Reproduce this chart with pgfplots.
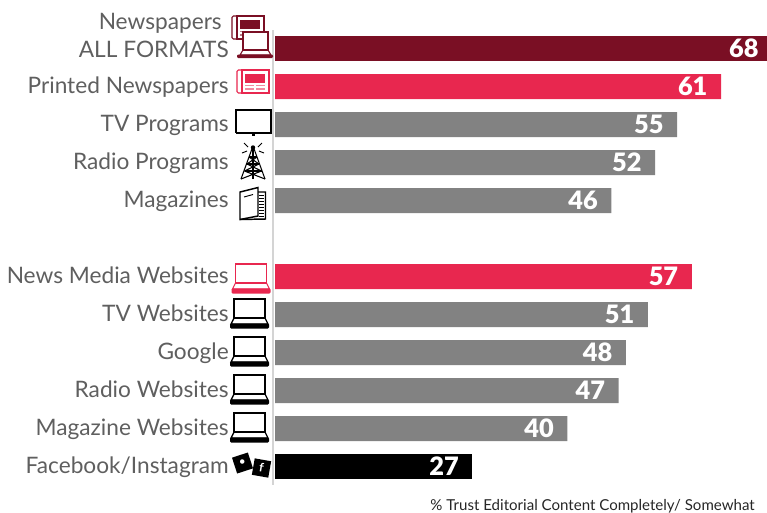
\documentclass[border=0pt]{standalone}
\usepackage{fontspec}
\setmainfont{Lato}
\newfontfamily\numfont{Lato Black}
\usepackage{pgfplots}
\pgfplotsset{compat=1.18}
\definecolor{darkred}{HTML}{7A0F24}
\definecolor{hotred}{HTML}{E8274F}
\definecolor{bargray}{HTML}{828282}
\definecolor{labelgray}{HTML}{5F5F5F}
\definecolor{axisgray}{HTML}{D4D4D4}

% icons, in picture pixels (origin top left, y down)
\newcommand{\laptop}[4]{% colour, left of screen, top of screen, line width
  \draw[#1,line width=#4] (#2,#3) rectangle ++(31,19);
  \draw[#1,line width=#4] (#2,#3+19) -- ++(-3,6) -- ++(37,0) -- ++(-3,-6);
  \fill[#1,rounded corners=0.8pt] (#2-4,#3+24.5) rectangle ++(39,5);
}
\newcommand{\paper}[3]{% colour, left, top
  \draw[#1,line width=0.8pt,rounded corners=1pt,fill=white] (#2,#3) rectangle ++(32,23);
  \draw[#1,line width=0.8pt,fill=white] (#2+5,#3) rectangle ++(27,23);
  \fill[#1] (#2+8,#3+3.5) rectangle ++(20,9);
  \fill[#1!55] (#2+8,#3+14.5) rectangle ++(9,1.7);
  \fill[#1!55] (#2+19,#3+14.5) rectangle ++(9,1.7);
  \fill[#1!55] (#2+8,#3+18) rectangle ++(9,1.7);
  \fill[#1!55] (#2+19,#3+18) rectangle ++(9,1.7);
}

\begin{document}
\begin{tikzpicture}[x=0.75pt,y=-0.75pt]
\path[use as bounding box] (0,0) rectangle (767,512);
\coordinate (axpos) at (273,485);
\begin{axis}[
  at={(axpos)}, anchor=south west,
  scale only axis, width=374.4pt, height=341.25pt,
  xmin=-0.274, xmax=68,
  ymin=-0.487, ymax=11.487, y dir=reverse,
  axis x line=none, axis y line=left,
  axis line style={-, axisgray, line width=1.5pt},
  ytick={0,1,2,3,4,6,7,8,9,10,11},
  yticklabels={\raisebox{-2pt}{ALL FORMATS},Printed Newspapers,TV Programs,Radio Programs,Magazines,News Media Websites,TV Websites,Google,Radio Websites,Magazine Websites,Facebook/Instagram},
  major tick length=0pt,
  y tick label style={anchor=east, inner sep=0pt, xshift=-33pt, yshift=-1pt, text=labelgray,
    font=\fontsize{17pt}{18pt}\selectfont, text height=12pt, text depth=4pt},
  xbar, bar shift=0pt, bar width=18.75pt,
  nodes near coords, point meta=explicit symbolic,
  every node near coord/.style={anchor=east, xshift=-10pt, white,
    font=\fontsize{19pt}{20pt}\numfont\selectfont, inner sep=0pt},
  clip mode=individual,
]
\addplot[fill=darkred, draw=none] coordinates {(68,0) [68]};
\addplot[fill=hotred, draw=none] coordinates {(61,1) [61] (57,6) [57]};
\addplot[fill=bargray, draw=none] coordinates {(55,2) [55] (52,3) [52] (46,4) [46] (51,7) [51] (48,8) [48] (47,9) [47] (40,10) [40]};
\addplot[fill=black, draw=none] coordinates {(27,11) [27]};
\end{axis}
\node[anchor=east, inner sep=0pt, text=labelgray, font=\fontsize{17pt}{18pt}\selectfont, text height=12pt, text depth=4pt] at (222,24) {Newspapers};

% top icon: newspaper with laptop
\paper{darkred}{232}{16}
\begin{scope}[shift={(243,32)}]
  \draw[darkred,line width=0.8pt,fill=white] (0,0) rectangle (25,18);
  \draw[darkred,line width=0.8pt] (0,18) -- (-3,23) -- (28,23) -- (25,18);
  \fill[darkred,rounded corners=0.8pt] (-6,22.5) rectangle (30,26);
\end{scope}
\paper{hotred}{237}{70}
% tv
\draw[black,line width=1.1pt] (236,110) rectangle (271,132.5);
\fill[black] (235.5,131.5) rectangle (271.5,134);
\fill[black] (251.5,134) rectangle (254.5,135.5);
% tower
\begin{scope}[black,line width=0.8pt]
  \draw (253,146) -- (241,179);
  \draw (253,146) -- (265,179);
  \draw (253,146) -- (253,179);
  \draw (249,157) -- (257,157) (247,164) -- (259,164) (244.5,171) -- (261.5,171);
  \draw (249,157) -- (259,164) (257,157) -- (247,164) (247,164) -- (261.5,171) (259,164) -- (244.5,171);
  \draw (244.5,171) -- (265,179) (261.5,171) -- (241,179);
  \draw[line width=0.7pt] (244,143) -- (248,147) (262,143) -- (258,147) (242,153) -- (247,151) (264,153) -- (259,151);
\end{scope}
\fill[black] (253,147.5) circle (2.2);
% magazine
\begin{scope}[black,line width=1.1pt]
  \draw (240,192) -- (258,187.5) -- (258,216) -- (240,219.5) -- cycle;
  \draw (258,192) -- (265.5,192) -- (265.5,219) -- (240,219.5);
  \draw[line width=0.7pt] (244,197) -- (253,194.5);
  \foreach \yy in {195,198,...,216} \draw[line width=0.6pt] (259,\yy) -- (264,\yy);
\end{scope}
% laptops
\laptop{hotred}{235.5}{264}{0.8pt}
\laptop{black}{234}{299}{1pt}
\laptop{black}{234}{337}{1pt}
\laptop{black}{234}{375}{1pt}
\laptop{black}{234}{413}{1pt}
% social squares
\node[fill=black,rotate=18,minimum size=12.5pt,inner sep=0pt,text=white,font=\fontsize{9pt}{9pt}\selectfont] at (242.5,463) {\textbullet};
\node[fill=black,rotate=-10,minimum size=12.5pt,inner sep=0pt,text=white,font=\fontsize{9pt}{9pt}\selectfont\bfseries] at (261.5,468) {f};
% footnote
\node[anchor=base east, inner sep=0pt, text=black!85, font=\fontsize{11.3pt}{12pt}\selectfont] at (755,510) {\% Trust Editorial Content Completely/ Somewhat};
\end{tikzpicture}
\end{document}
